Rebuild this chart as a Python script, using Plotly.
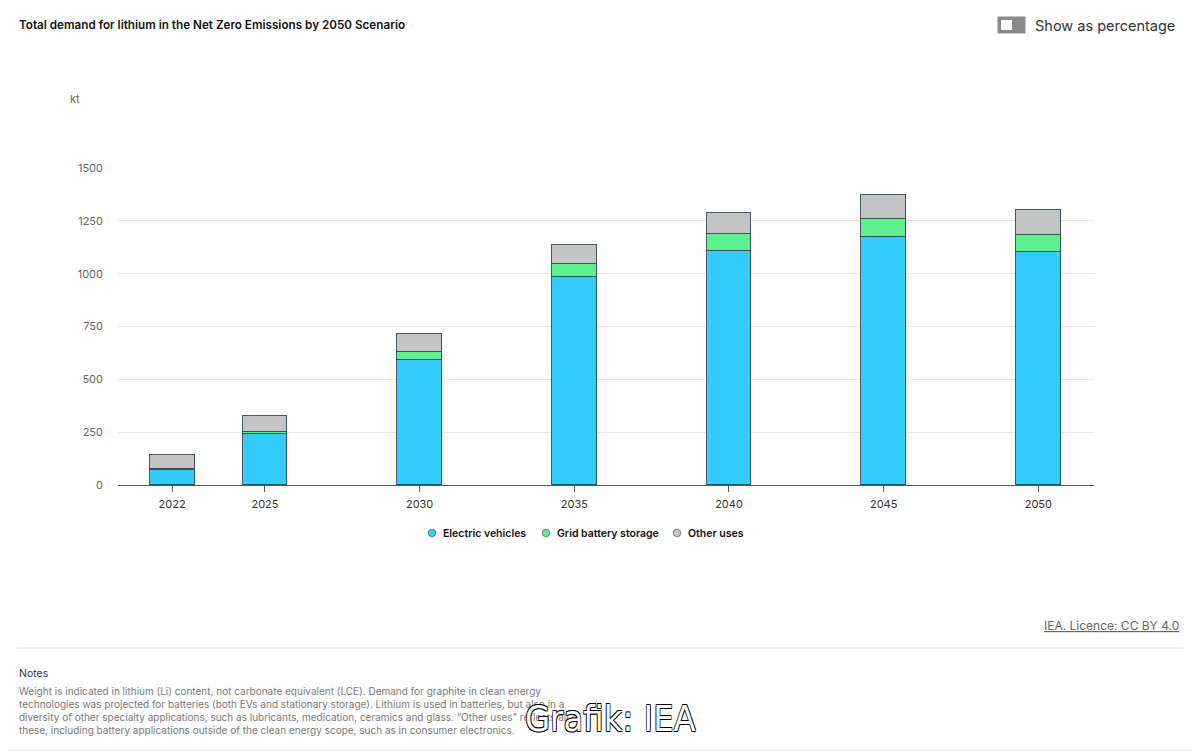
import plotly.graph_objects as go

years = [2022, 2025, 2030, 2035, 2040, 2045, 2050]
ev = [72, 241, 590, 983, 1107, 1172, 1103]
grid = [3, 11, 38, 61, 83, 88, 79]
other = [66, 76, 85, 92, 98, 111, 118]
series_names = ["Electric vehicles", "Grid battery storage", "Other uses"]
series_colors = ["#33ccff", "#5cf08f", "#c4c4c4"]
ytick_vals = [0, 250, 500, 750, 1000, 1250, 1500]

# page has an 8px body margin, so the figure is shifted by 8px
OFF = 8
W, H = 1200 - OFF, 752 - OFF
L, R, T, B = 118, 1094, 168, 485   # plot area in screen pixels

def px(x):
    return (x - L) / (R - L)

def py(y):
    return (B - y) / (B - T)

FONT = "Inter, Noto Sans, sans-serif"

fig = go.Figure()
for name, vals, col in zip(series_names, [ev, grid, other], series_colors):
    fig.add_trace(go.Bar(
        x=years, y=vals, name=name, width=1.45,
        marker=dict(color=col, line=dict(color="rgba(40,60,70,0.85)", width=1)),
        showlegend=False,
    ))

shapes = []
# card border
shapes.append(dict(type="path", xref="paper", yref="paper",
                   path=f"M {px(1)},{py(1)} L {px(1188)},{py(1)} Q {px(1198)},{py(1)} {px(1198)},{py(11)} L {px(1198)},{py(750)} L {px(1)},{py(750)} Z",
                   line=dict(color="#e2e2e2", width=1), fillcolor="rgba(0,0,0,0)", layer="below"))
# separator line
shapes.append(dict(type="line", xref="paper", yref="paper",
                   x0=px(17), x1=px(1183), y0=py(648), y1=py(648),
                   line=dict(color="#e4e4e4", width=1)))
# toggle
shapes.append(dict(type="rect", xref="paper", yref="paper",
                   x0=px(998), x1=px(1025), y0=py(17), y1=py(33),
                   fillcolor="#8a8a8a", line=dict(color="#8a8a8a", width=1)))
shapes.append(dict(type="rect", xref="paper", yref="paper",
                   x0=px(1001), x1=px(1012), y0=py(20), y1=py(30),
                   fillcolor="#ffffff", line=dict(width=0)))

annotations = [
    dict(text="Total demand for lithium in the Net Zero Emissions by 2050 Scenario",
         x=px(17), y=py(25), xref="paper", yref="paper", xanchor="left", yanchor="middle",
         showarrow=False, font=dict(family=FONT, size=11.7, color="#111111", weight=600)),
    dict(text="Show as percentage", x=px(1033), y=py(26), xref="paper", yref="paper",
         xanchor="left", yanchor="middle", showarrow=False,
         font=dict(family=FONT, size=14.5, color="#333333")),
    dict(text="kt", x=px(68), y=py(99), xref="paper", yref="paper", xanchor="left",
         yanchor="middle", showarrow=False, font=dict(family=FONT, size=11, color="#666666")),
    dict(text="IEA. Licence: CC BY 4.0", x=px(1181), y=py(625), xref="paper", yref="paper",
         xanchor="right", yanchor="middle", showarrow=False,
         font=dict(family=FONT, size=12, color="#666666", lineposition="under")),
    dict(text="Notes", x=px(17), y=py(673), xref="paper", yref="paper", xanchor="left",
         yanchor="middle", showarrow=False, font=dict(family=FONT, size=10.5, color="#333333")),
    dict(text=("Weight is indicated in lithium (Li) content, not carbonate equivalent (LCE). Demand for graphite in clean energy<br>"
               "technologies was projected for batteries (both EVs and stationary storage). Lithium is used in batteries, but also in a<br>"
               "diversity of other specialty applications, such as lubricants, medication, ceramics and glass. \u201cOther uses\u201d reflects all of<br>"
               "these, including battery applications outside of the clean energy scope, such as in consumer electronics."),
         x=px(17), y=py(683), xref="paper", yref="paper", xanchor="left", yanchor="top",
         align="left", showarrow=False,
         font=dict(family=FONT, size=10, color="#7a7a7a")),
    dict(text="Grafik: IEA", x=px(610), y=py(718), xref="paper", yref="paper",
         xanchor="center", yanchor="middle", showarrow=False,
         font=dict(family="Liberation Sans Narrow, DejaVu Sans Condensed, sans-serif", size=36,
                   color="#ffffff", weight=300,
                   shadow="0.7px 0.7px 0 #000, -0.7px -0.7px 0 #000, 0.7px -0.7px 0 #000, -0.7px 0.7px 0 #000")),
]

# manual legend (circle dots + bold labels)
legend_dot_x = [432, 546, 677]
legend_y = 533
for name, col, dx in zip(series_names, series_colors, legend_dot_x):
    shapes.append(dict(type="circle", xref="paper", yref="paper",
                       xsizemode="pixel", ysizemode="pixel",
                       xanchor=px(dx), yanchor=py(legend_y),
                       x0=-3.8, x1=3.8, y0=-3.8, y1=3.8,
                       fillcolor=col, line=dict(color="rgba(60,60,60,0.55)", width=1)))
    annotations.append(dict(text=name, x=px(dx + 8.5), y=py(legend_y), xref="paper", yref="paper",
                            xanchor="left", yanchor="middle", showarrow=False,
                            font=dict(family=FONT, size=10.5, color="#111111", weight=600)))

fig.update_layout(
    width=W, height=H,
    margin=dict(l=L - OFF, r=W - (R - OFF), t=T - OFF, b=H - (B - OFF), pad=0),
    paper_bgcolor="#ffffff", plot_bgcolor="#ffffff",
    barmode="stack", bargap=0,
    font=dict(family=FONT),
    showlegend=False,
    xaxis=dict(range=[2020.25, 2051.8], tickvals=years, ticktext=[str(y) for y in years],
               showgrid=False, showline=True, linecolor="#555555", linewidth=1,
               ticks="outside", ticklen=6, tickcolor="#555555", zeroline=False,
               ticklabelstandoff=3,
               tickfont=dict(family=FONT, size=11, color="#333333")),
    yaxis=dict(range=[0, 1500], tickvals=ytick_vals, showgrid=True, gridcolor="#e6e6e6",
               gridwidth=1, zeroline=False, showline=False, ticks="", ticklabelstandoff=14,
               tickfont=dict(family=FONT, size=11, color="#666666")),
    shapes=shapes, annotations=annotations,
)

fig.write_html("out.html")
